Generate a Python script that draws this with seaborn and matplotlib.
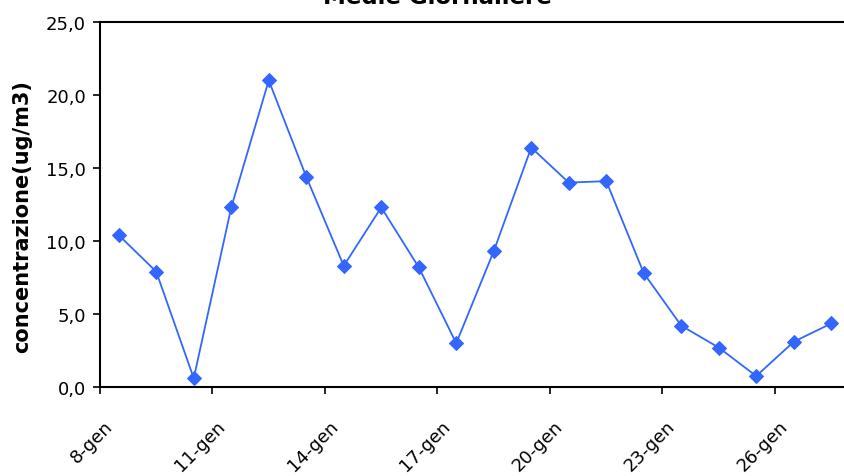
import matplotlib
matplotlib.use("Agg")
import matplotlib.pyplot as plt
import matplotlib.transforms as mtransforms
import seaborn as sns
import pandas as pd

# daily means, 8 to 27 January
days = ["8-gen", "9-gen", "10-gen", "11-gen", "12-gen", "13-gen", "14-gen", "15-gen",
        "16-gen", "17-gen", "18-gen", "19-gen", "20-gen", "21-gen", "22-gen", "23-gen",
        "24-gen", "25-gen", "26-gen", "27-gen"]
concentrazione = [10.4, 7.9, 0.6, 12.3, 21.0, 14.4, 8.3, 12.3, 8.2, 3.0,
                  9.3, 16.4, 14.0, 14.1, 7.8, 4.2, 2.7, 0.75, 3.1, 4.35]
yticks = [0, 5, 10, 15, 20, 25]
ytick_labels = ["0,0", "5,0", "10,0", "15,0", "20,0", "25,0"]

df = pd.DataFrame({"idx": range(len(days)), "giorno": days, "val": concentrazione})

sns.set_style("white", {"text.color": "black", "axes.labelcolor": "black",
                        "xtick.color": "black", "ytick.color": "black"})
plt.rcParams["font.family"] = ["DejaVu Sans"]

fig = plt.figure(figsize=(8.45, 4.77), dpi=100)
ax = fig.add_axes([100 / 845, 89 / 477, 750 / 845, 365 / 477])

sns.lineplot(data=df, x="idx", y="val", ax=ax, color="#3366FF", linewidth=1.3,
             marker="D", markersize=7, markeredgecolor="#3366FF")

ax.set_xlim(-0.5, len(days) - 0.5)
ax.set_ylim(0, 25)
ax.set_yticks(yticks)
ax.set_yticklabels(ytick_labels, fontsize=13)

tick_pos = [i - 0.5 for i in range(0, len(days), 3)]
ax.set_xticks(tick_pos)
ax.set_xticklabels(days[::3], rotation=45, ha="right", va="center",
                   rotation_mode="anchor", fontsize=13)

ax.tick_params(axis="both", direction="out", length=5, width=1.2, color="black",
               left=True, bottom=True)
ax.tick_params(axis="y", pad=5)
ax.tick_params(axis="x", pad=0)

# shift the rotated date labels so their end sits right of and below the tick
offset = mtransforms.ScaledTranslation(10 / 100, -29 / 100, fig.dpi_scale_trans)
for lab in ax.get_xticklabels():
    lab.set_transform(lab.get_transform() + offset)

for s in ax.spines.values():
    s.set_color("black")
    s.set_linewidth(1.5)
ax.spines["right"].set_visible(False)

ax.set_xlabel("")
ax.set_ylabel("concentrazione(ug/m3)", fontsize=15, fontweight="bold")
ax.yaxis.set_label_coords(-0.09, 0.47)

fig.text(437 / 845, 1 - 4 / 477, "Medie Giornaliere", ha="center", va="baseline",
         fontsize=16.5, fontweight="bold")

fig.savefig("out.png", dpi=100)
